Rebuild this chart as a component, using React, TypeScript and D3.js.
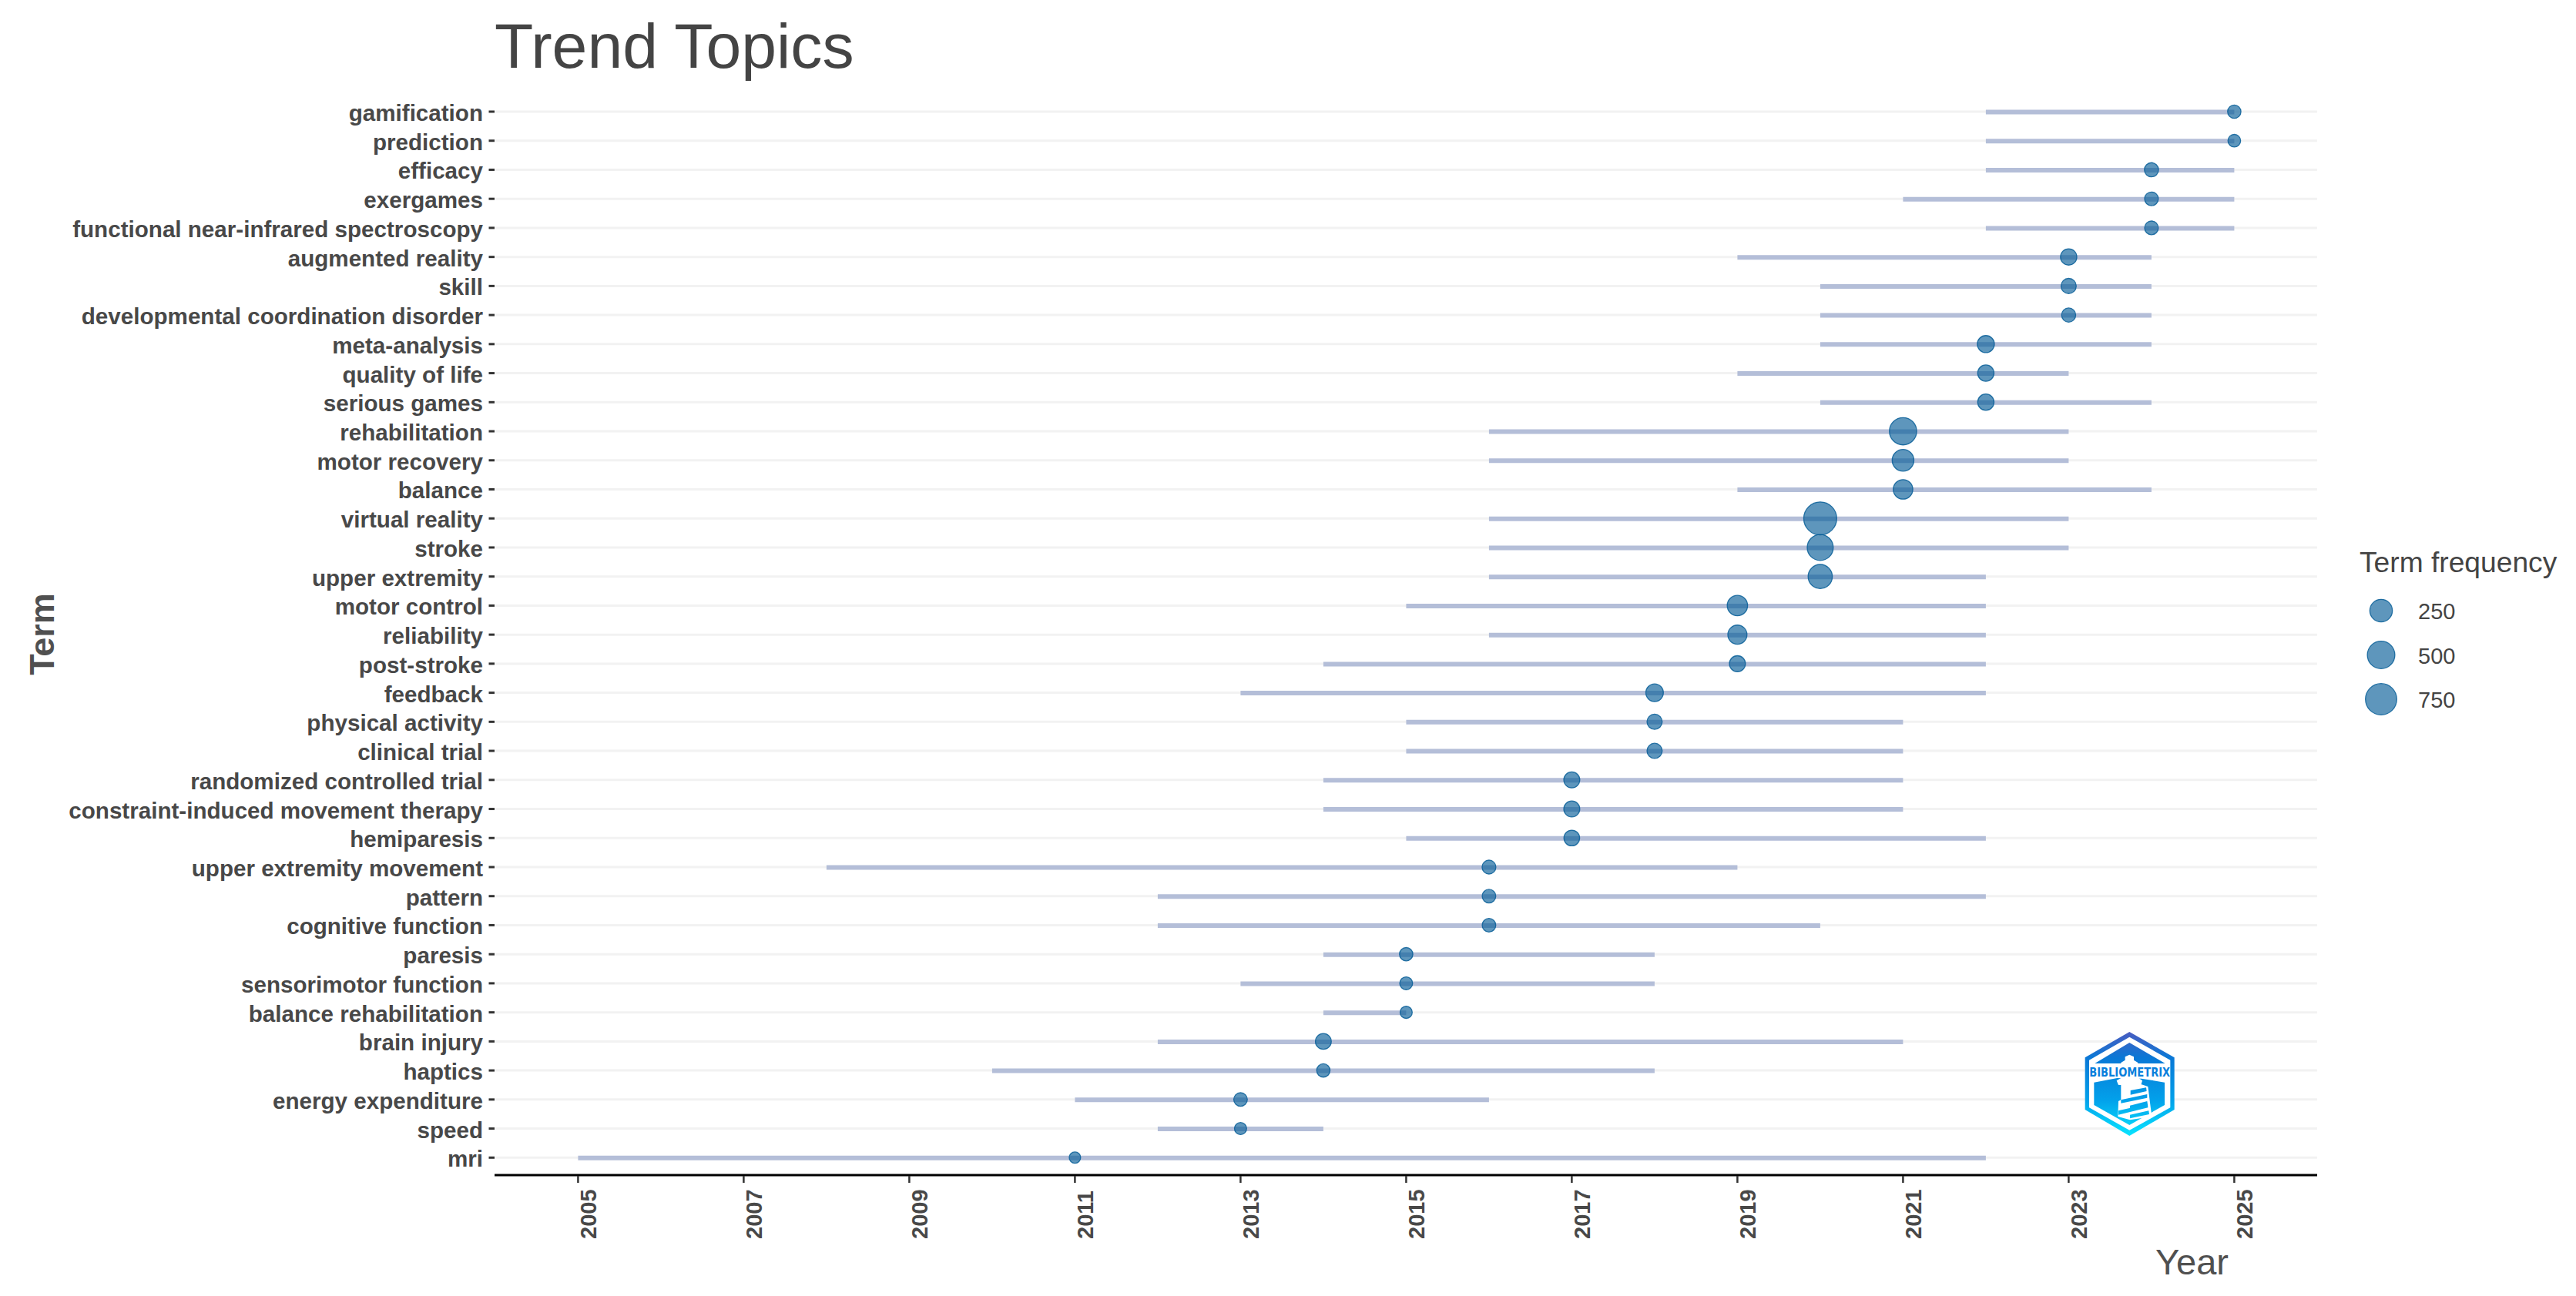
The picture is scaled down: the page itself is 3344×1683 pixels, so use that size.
import React from "react";
import * as d3 from "d3";

const terms = ["gamification","prediction","efficacy","exergames","functional near-infrared spectroscopy","augmented reality","skill","developmental coordination disorder","meta-analysis","quality of life","serious games","rehabilitation","motor recovery","balance","virtual reality","stroke","upper extremity","motor control","reliability","post-stroke","feedback","physical activity","clinical trial","randomized controlled trial","constraint-induced movement therapy","hemiparesis","upper extremity movement","pattern","cognitive function","paresis","sensorimotor function","balance rehabilitation","brain injury","haptics","energy expenditure","speed","mri"];
const yearStart = [2022,2022,2022,2021,2022,2019,2020,2020,2020,2019,2020,2016,2016,2019,2016,2016,2016,2015,2016,2014,2013,2015,2015,2014,2014,2015,2008,2012,2012,2014,2013,2014,2012,2010,2011,2012,2005];
const yearEnd = [2025,2025,2025,2025,2025,2024,2024,2024,2024,2023,2024,2023,2023,2024,2023,2023,2022,2022,2022,2022,2022,2021,2021,2021,2021,2022,2019,2022,2020,2018,2018,2015,2021,2018,2016,2014,2022];
const yearMedian = [2025,2025,2024,2024,2024,2023,2023,2023,2022,2022,2022,2021,2021,2021,2020,2020,2020,2019,2019,2019,2018,2018,2018,2017,2017,2017,2016,2016,2016,2015,2015,2015,2014,2014,2013,2013,2011];
const frequency = [27,23,34,30,30,65,47,34,80,65,65,485,217,143,880,416,322,168,130,59,90,47,47,59,59,54,31,29,29,27,24,21,57,27,29,21,20];
const xTickYears = [2005,2007,2009,2011,2013,2015,2017,2019,2021,2023,2025];
const legendValues = [250,500,750];

const TEXT = "#484848";
const FONT = "'Liberation Sans', Arial, sans-serif";
const POINT = "#075e98";

// logo outlines, in units of a 390 x 435 badge
const badge = (pts: number[][]) => pts.map(([a, b]) => `${2700 + a / 3},${1335 + b / 3}`).join(" ");
const logoOuter = [[193,15],[368,115],[368,318],[193,420],[20,318],[20,115]];
const logoInner = [[193,35],[352,125],[352,310],[193,398],[36,310],[36,125]];
const logoRoof = [[193,57],[332,138],[58,138]];
const logoBase = [[55,212],[145,195],[240,197],[330,212],[330,300],[193,378],[55,300]];
const logoLamp = [[160,155],[160,135],[176,125],[176,112],[193,104],[210,112],[210,125],[226,135],[226,155]];
const logoGallery = [[143,205],[165,192],[225,192],[243,205],[238,222],[150,222]];
const logoTower = [[160,220],[240,220],[265,228],[280,345],[195,358],[148,345],[150,285],[160,280]];
const logoBands = [
  [[197,243],[258,232],[260,246],[197,260]],
  [[160,280],[262,258],[262,272],[160,293]],
  [[195,302],[262,285],[264,300],[195,318]],
  [[150,322],[264,296],[265,310],[150,338]],
  [[195,338],[268,322],[270,336],[195,352]],
];

export default function App() {
  const x = d3.scaleLinear().domain([2004, 2026]).range([642.9, 3007.9]);
  const y = d3.scalePoint<string>().domain(terms).range([145, 1503.3]);
  const r = (f: number) => 7.4 + 14 * Math.sqrt(Math.max(0, f - 20) / 860);
  const legendY = d3.scalePoint<number>().domain(legendValues).range([793, 908]);
  return (
    <svg width={3344} height={1683} viewBox="0 0 3344 1683" style={{ position: "absolute", left: 0, top: 0, display: "block", background: "#fff" }} fontFamily={FONT}>
      <defs>
        <linearGradient id="logoGrad" gradientUnits="userSpaceOnUse" x1="0" y1="1340" x2="0" y2="1475">
          <stop offset="0" stopColor="#4a5cc0" />
          <stop offset="0.25" stopColor="#0a78d6" />
          <stop offset="0.65" stopColor="#02a0ea" />
          <stop offset="1" stopColor="#08e4ff" />
        </linearGradient>
      </defs>
      <text x={642} y={88} fontSize={82.3} fill="#444">Trend Topics</text>
      {terms.map((t) => (
        <line key={t} x1={x(2004)} x2={x(2026)} y1={y(t)} y2={y(t)} stroke="#f2f2f2" strokeWidth={3} />
      ))}
      {terms.map((t, i) => (
        <line key={t} x1={x(yearStart[i])} x2={x(yearEnd[i])} y1={y(t)! + 0.5} y2={y(t)! + 0.5} stroke="#b4bed8" strokeWidth={6} />
      ))}
      {terms.map((t, i) => (
        <circle key={t} cx={x(yearMedian[i])} cy={y(t)} r={r(frequency[i])} fill={POINT} fillOpacity={0.65} stroke={POINT} strokeOpacity={0.85} strokeWidth={1.3} />
      ))}
      {terms.map((t) => (
        <g key={t}>
          <line x1={634.5} x2={642} y1={y(t)} y2={y(t)} stroke="#333" strokeWidth={3} />
          <text x={627} y={y(t)! + 12} textAnchor="end" fontSize={29.6} fontWeight="bold" fill={TEXT}>{t}</text>
        </g>
      ))}
      <line x1={642} x2={3008} y1={1526} y2={1526} stroke="#000" strokeWidth={3} />
      {xTickYears.map((yr) => (
        <g key={yr}>
          <line x1={x(yr)} x2={x(yr)} y1={1527} y2={1536} stroke="#333" strokeWidth={2.5} />
          <text transform={`translate(${x(yr) + 24},1609) rotate(-90)`} fontSize={29} fontWeight="bold" fill={TEXT}>{yr}</text>
        </g>
      ))}
      <text x={2798} y={1655} fontSize={47} fill="#505050">Year</text>
      <text transform="translate(69.5,823.5) rotate(-90)" textAnchor="middle" fontSize={45} fontWeight="bold" fill="#505050">Term</text>
      <text x={3063} y={743} fontSize={37.2} fill="#444">Term frequency</text>
      {legendValues.map((v) => (
        <g key={v}>
          <circle cx={3091} cy={legendY(v)} r={r(v)} fill={POINT} fillOpacity={0.65} stroke={POINT} strokeOpacity={0.85} strokeWidth={1.3} />
          <text x={3139} y={legendY(v)! + 11} fontSize={29} fill="#444">{v}</text>
        </g>
      ))}
      <g>
        <polygon points={badge(logoOuter)} fill="url(#logoGrad)" />
        <polygon points={badge(logoInner)} fill="#fff" />
        <polygon points={badge(logoRoof)} fill="url(#logoGrad)" />
        <polygon points={badge(logoBase)} fill="url(#logoGrad)" />
        <polygon points={badge(logoLamp)} fill="#fff" />
        <polygon points={badge(logoGallery)} fill="#fff" />
        <polygon points={badge(logoTower)} fill="#fff" />
        {logoBands.map((b, i) => <polygon key={i} points={badge(b)} fill="url(#logoGrad)" />)}
        <text x={2764.7} y={1398.3} textAnchor="middle" fontFamily="'DejaVu Sans', sans-serif" fontWeight="bold" fontSize={16} textLength={105} lengthAdjust="spacingAndGlyphs" fill="#0a7fdc">BIBLIOMETRIX</text>
      </g>
    </svg>
  );
}
